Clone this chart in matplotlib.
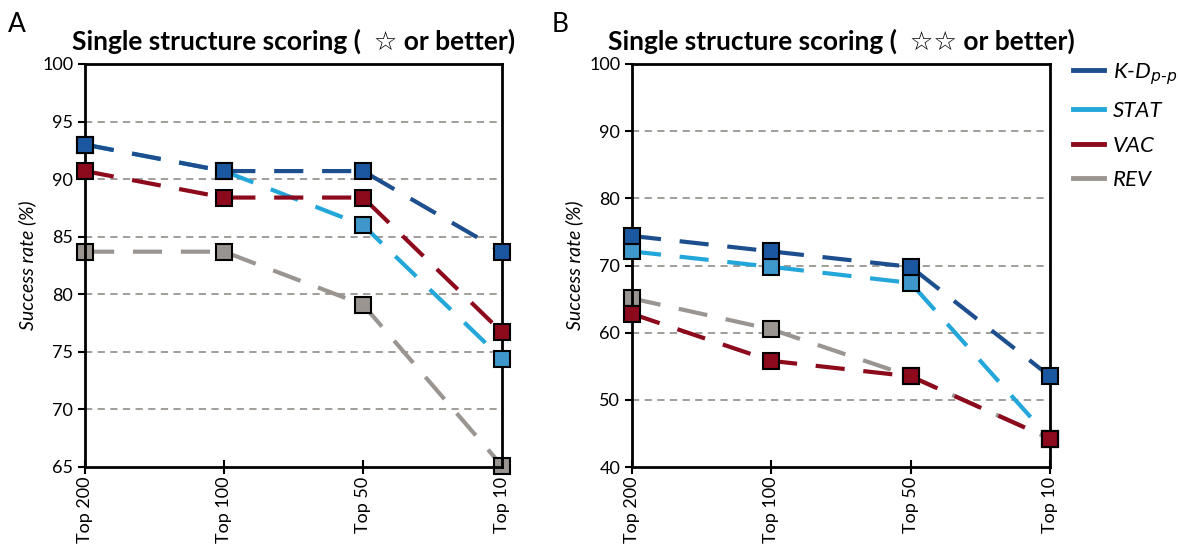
import matplotlib
matplotlib.use("Agg")
import matplotlib.pyplot as plt

plt.rcParams["font.family"] = ["Lato", "DejaVu Sans"]

cats = ["Top 200", "Top 100", "Top 50", "Top 10"]
series = ["K-D", "STAT", "VAC", "REV"]

# panel A: one star or better
a_kd = [93.0, 90.7, 90.7, 83.7]
a_stat = [93.0, 90.7, 86.0, 74.4]
a_vac = [90.7, 88.4, 88.4, 76.7]
a_rev = [83.7, 83.7, 79.1, 65.1]

# panel B: two stars or better
b_kd = [74.4, 72.1, 69.8, 53.5]
b_stat = [72.1, 69.8, 67.4, 44.2]
b_vac = [62.8, 55.8, 53.5, 44.2]
b_rev = [65.1, 60.5, 53.5, 44.2]

line_col = {"K-D": "#1d4f8f", "STAT": "#23a6d9", "VAC": "#8c0a1c", "REV": "#9a9591"}
mark_col = {"K-D": "#1b57a0", "STAT": "#3f98cc", "VAC": "#8c0a1c", "REV": "#9a9591"}
zord = {"K-D": 4, "STAT": 3, "VAC": 5, "REV": 2}

fig = plt.figure(figsize=(11.78, 5.49), dpi=100)
axA = fig.add_axes([85/1178, 1-467/549, 417/1178, 403/549])
axB = fig.add_axes([632/1178, 1-467/549, 418/1178, 403/549])


def panel(ax, data, ylim, step, title):
    x = list(range(len(cats)))
    for name, vals in zip(series, data):
        ax.plot(x, vals, color=line_col[name], lw=3, dashes=(7, 4.5),
                marker="s", ms=11, mfc=mark_col[name], mec="black", mew=1.5,
                zorder=zord[name], clip_on=False, label=name)
    ax.set_xlim(0, 3)
    ax.set_ylim(*ylim)
    yt = list(range(ylim[0], ylim[1] + 1, step))
    ax.set_yticks(yt)
    for v in yt[1:-1]:
        ax.axhline(v, color="#9a9591", lw=1.3, ls=(0, (4, 3)), zorder=1)
    ax.set_xticks(x)
    ax.set_xticklabels(cats, rotation=90, fontsize=13)
    ax.tick_params(axis="y", labelsize=13, direction="out", length=5, width=1.5)
    ax.tick_params(axis="x", direction="inout", length=10, width=1.5, pad=2)
    for s in ax.spines.values():
        s.set_linewidth(2)
    ax.set_ylabel("Success rate (%)", style="italic", fontsize=14, labelpad=4)
    ax.set_title(title, fontsize=19, fontweight="bold", pad=10)


panel(axA, [a_kd, a_stat, a_vac, a_rev], (65, 100), 5,
      "Single structure scoring (  \u2606 or better)")
panel(axB, [b_kd, b_stat, b_vac, b_rev], (40, 100), 10,
      "Single structure scoring (  \u2606\u2606 or better)")

fig.text(8/1178, 1-24/549, "A", fontsize=19, va="center")
fig.text(552/1178, 1-24/549, "B", fontsize=19, va="center")

labels = ["K-D$_{p\\text{-}p}$", "STAT", "VAC", "REV"]
leg_h = [plt.Line2D([0], [0], color=line_col[n], lw=3.5) for n in series]
leg = fig.legend(leg_h, labels, loc="upper left",
                 bbox_to_anchor=(1064/1178, 1-52/549), frameon=False,
                 handlelength=1.4, handletextpad=0.4, labelspacing=0.65,
                 borderaxespad=0, prop={"size": 16, "style": "italic"})

fig.savefig("out.png", dpi=100)
